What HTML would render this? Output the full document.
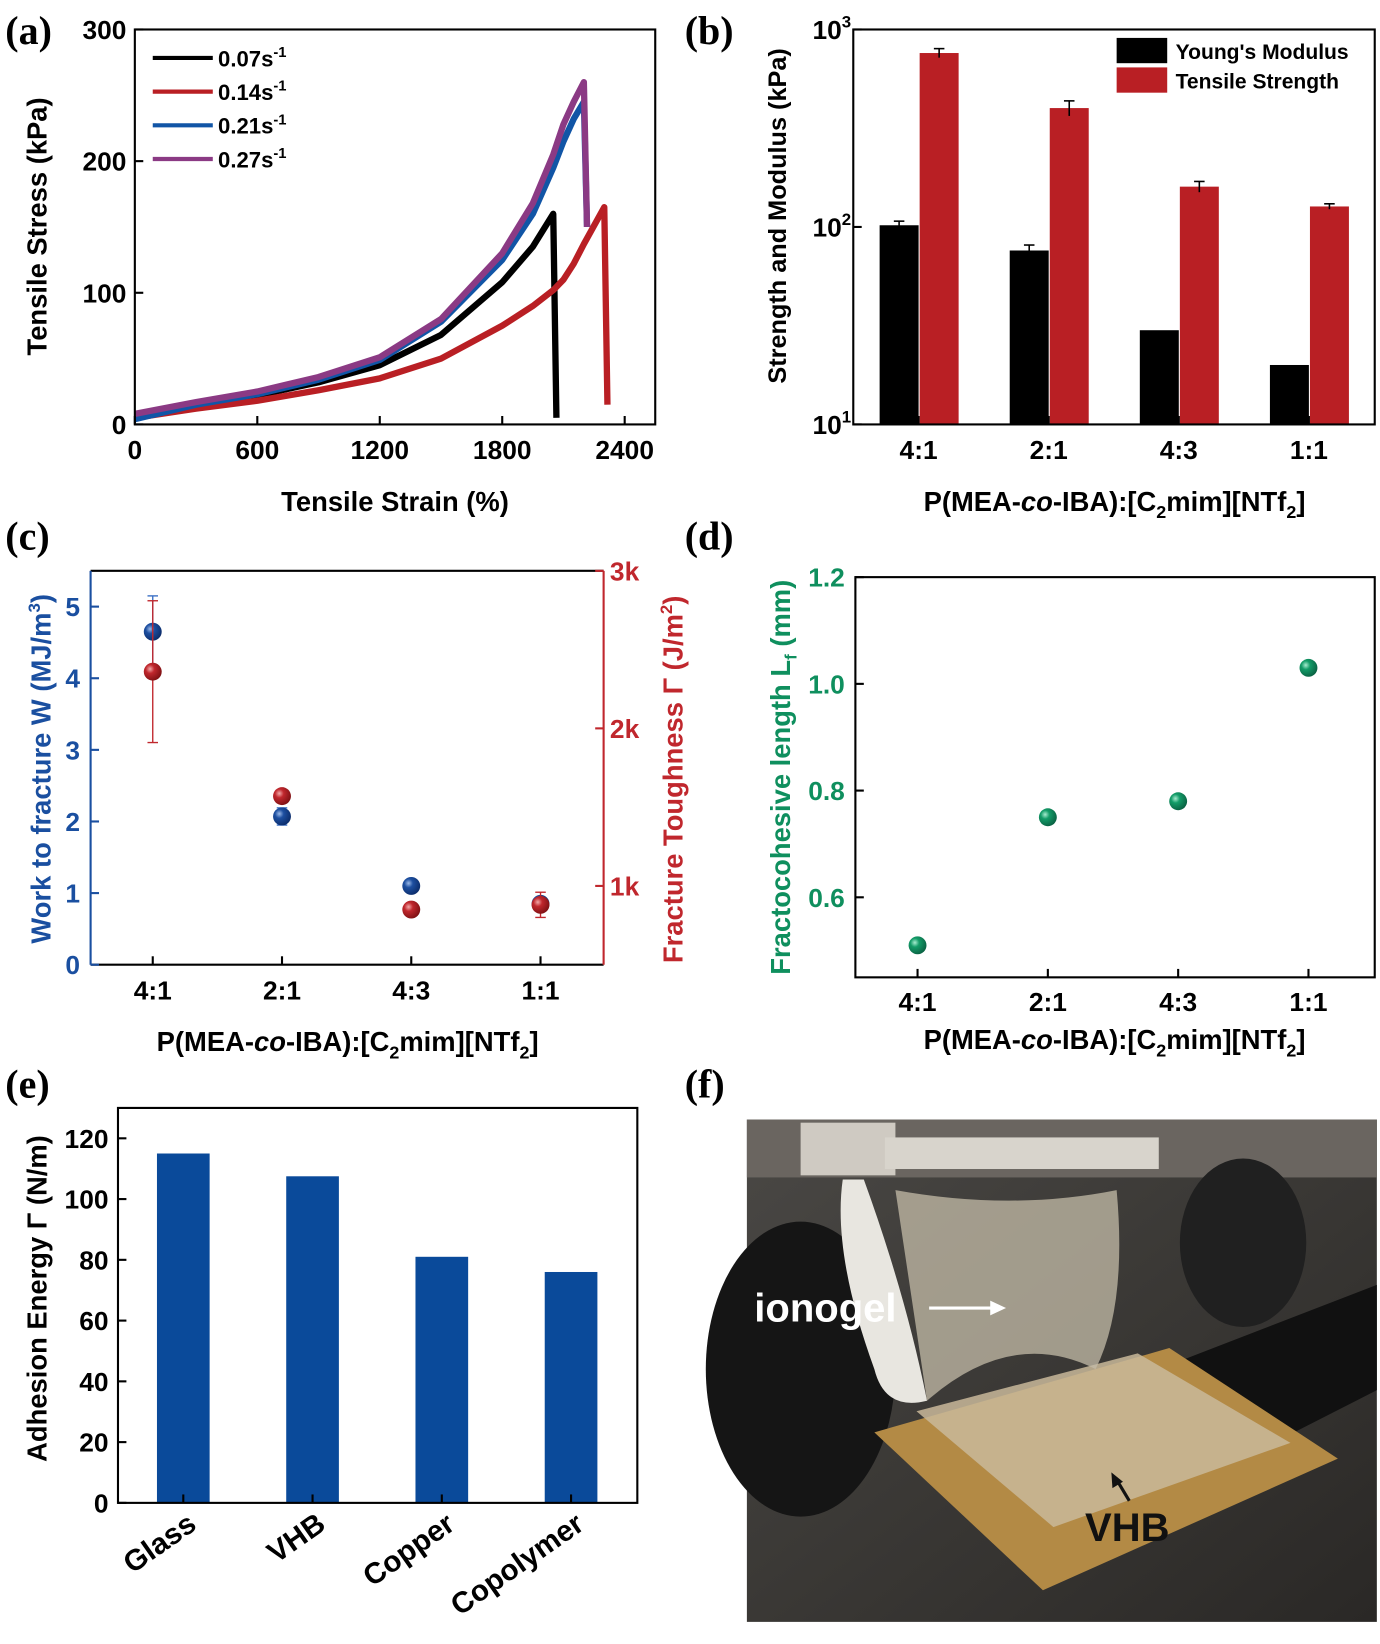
<!DOCTYPE html>
<html><head><meta charset="utf-8"><style>
html,body{margin:0;padding:0;background:#fff;width:1380px;height:1644px;overflow:hidden}
svg{display:block}
text{font-family:"Liberation Sans",Arial,sans-serif;font-weight:bold}
.pl{font-family:"Liberation Serif",serif;font-size:38px;font-weight:bold}
.tk{font-size:25px}
.tt{font-size:26px}
</style></head><body>
<svg id="fig" width="1380" height="1644" viewBox="0 0 1310 1561" preserveAspectRatio="none" xmlns="http://www.w3.org/2000/svg">
<defs>
<radialGradient id="gb" cx="35%" cy="35%" r="70%"><stop offset="0" stop-color="#9bb9e8"/><stop offset="0.35" stop-color="#1d4fa0"/><stop offset="1" stop-color="#0b2c6a"/></radialGradient>
<radialGradient id="gr" cx="35%" cy="35%" r="70%"><stop offset="0" stop-color="#f2a9a9"/><stop offset="0.35" stop-color="#c0272d"/><stop offset="1" stop-color="#7d1013"/></radialGradient>
<radialGradient id="gg" cx="35%" cy="35%" r="70%"><stop offset="0" stop-color="#a8ecd0"/><stop offset="0.35" stop-color="#139c68"/><stop offset="1" stop-color="#0a6042"/></radialGradient>
<linearGradient id="photo" x1="0" y1="0" x2="1" y2="1"><stop offset="0" stop-color="#4a4845"/><stop offset="0.5" stop-color="#3a3835"/><stop offset="1" stop-color="#2a2826"/></linearGradient>
</defs>
<g id="pa"></g>
<g id="pb"></g>
<g id="pc"></g>
<g id="pd"></g>
<g id="pe"></g>
<g id="pf">
  <rect x="709" y="1063" width="598" height="477" fill="url(#photo)"/>
  <rect x="709" y="1063" width="598" height="55" fill="#6a6560"/>
  <rect x="760" y="1066" width="90" height="50" fill="#cfcac2"/>
  <rect x="840" y="1080" width="260" height="30" fill="#d8d4cc"/>
  <ellipse cx="760" cy="1300" rx="90" ry="140" fill="#151515"/>
  <ellipse cx="1180" cy="1180" rx="60" ry="80" fill="#202020"/>
  <polygon points="1100,1300 1307,1220 1307,1320 1150,1400" fill="#111"/>
  <polygon points="830,1360 1110,1280 1270,1385 990,1510" fill="#b38a45"/>
  <polygon points="870,1340 1080,1285 1225,1370 1000,1450" fill="#c9b89a" opacity="0.85"/>
  <path d="M820,1120 Q860,1230 880,1330 Q840,1340 830,1300 Q790,1190 800,1120 Z" fill="#e8e6e0"/>
  <path d="M850,1130 Q960,1150 1060,1130 Q1070,1240 1040,1300 Q960,1260 880,1330 Z" fill="#c4bca8" opacity="0.75"/>
  <text x="716" y="1255" fill="#fff" font-size="38">ionogel</text>
  <line x1="882" y1="1242" x2="945" y2="1242" stroke="#fff" stroke-width="3"/>
  <polygon points="955,1242 940,1235 940,1249" fill="#fff"/>
  <text x="1030" y="1463" fill="#111" font-size="38">VHB</text>
  <line x1="1072" y1="1425" x2="1060" y2="1405" stroke="#111" stroke-width="3"/>
  <polygon points="1055,1398 1056,1413 1066,1407" fill="#111"/>
</g>
<text class="pl" x="5" y="42">(a)</text>
<text class="pl" x="650" y="42">(b)</text>
<text class="pl" x="5" y="522">(c)</text>
<text class="pl" x="650" y="522">(d)</text>
<text class="pl" x="5" y="1042">(e)</text>
<text class="pl" x="650" y="1042">(f)</text>
</svg>
<script>
const NS='http://www.w3.org/2000/svg';
function mk(parent,tag,attrs,txt){const e=document.createElementNS(NS,tag);for(const k in attrs)e.setAttribute(k,attrs[k]);if(txt!==undefined)e.textContent=txt;parent.appendChild(e);return e;}

// ---------- Panel A data ----------
const aStrain=[0,300,600,900,1200,1500,1800,1950,2050,2100,2150,2200,2300];
const aBlack=[5,15,22,32,45,68,108,135,160,null,null,null,null];
const aRed=[5,12,18,26,35,50,75,90,102,110,122,137,165];
const aBlue=[4,15,23,34,49,78,125,160,195,215,232,245,null];
const aPurple=[8,17,25,36,51,80,130,168,205,228,245,260,null];
const aXTicks=[0,600,1200,1800,2400];
const aYTicks=[0,100,200,300];
const aLegend=['0.07s','0.14s','0.21s','0.27s'];
const aDrop=[5,15,150,150];
// ---------- Panel B data ----------
const bCats=['4:1','2:1','4:3','1:1'];
const bModulus=[102,76,30,20];
const bModErr=[5,5,0,0];
const bStrength=[760,400,160,127];
const bStrErr=[40,35,10,4];
// ---------- Panel C data ----------
const cCats=['4:1','2:1','4:3','1:1'];
const cWork=[4.65,2.07,1.1,0.85];
const cWorkErr=[0.5,0.12,0.05,0.05];
const cTough=[2.36,1.57,0.85,0.88];
const cToughErr=[0.45,0.04,0.03,0.08];
const cYTicks=[0,1,2,3,4,5];
const cY2Ticks=[1,2,3];
// ---------- Panel D data ----------
const dCats=['4:1','2:1','4:3','1:1'];
const dLf=[0.51,0.75,0.78,1.03];
const dYTicks=[0.6,0.8,1.0,1.2];
// ---------- Panel E data ----------
const eCats=['Glass','VHB','Copper','Copolymer'];
const eVals=[115,107.5,81,76];
const eYTicks=[0,20,40,60,80,100,120];

// ===== Panel A =====
(function(){
const g=document.getElementById('pa');
const X0=128,X1=622,Y0=403,Y1=28;
const xs=v=>X0+v/2400*(593-X0);
const ys=v=>Y0-v/300*(Y0-Y1);
const series=[[aBlack,'#000'],[aRed,'#b91f24'],[aBlue,'#1155a6'],[aPurple,'#8b3a84']];
series.forEach((s,i)=>{
  let pts=[];let last=null;
  s[0].forEach((v,j)=>{if(v!==null){pts.push(xs(aStrain[j])+','+ys(v));last=j;}});
  const endX=xs(aStrain[last])+3;
  pts.push(endX+','+ys(aDrop[i]));
  const p=mk(g,'polyline',{points:pts.join(' '),fill:'none',stroke:s[1],'stroke-width':6,'stroke-linejoin':'round'});
  
  
});
const box=mk(g,'rect',{x:X0,y:Y1,width:X1-X0,height:Y0-Y1,fill:'none',stroke:'#000','stroke-width':2});

aXTicks.forEach(t=>{
  mk(g,'line',{x1:xs(t),y1:Y0,x2:xs(t),y2:Y0-8,stroke:'#000','stroke-width':2});
  const l=mk(g,'text',{x:xs(t),y:Y0+33,'text-anchor':'middle',class:'tk'},t);
  
});
aYTicks.forEach(t=>{
  mk(g,'line',{x1:X0,y1:ys(t),x2:X0+8,y2:ys(t),stroke:'#000','stroke-width':2});
  const l=mk(g,'text',{x:X0-8,y:ys(t)+9,'text-anchor':'end',class:'tk'},t);
  
});
const xt=mk(g,'text',{x:375,y:485,'text-anchor':'middle',class:'tt'},'Tensile Strain (%)');

const yt=mk(g,'text',{x:44,y:215,'text-anchor':'middle',class:'tt',transform:'rotate(-90 44 215)'},'Tensile Stress (kPa)');

aLegend.forEach((lab,i)=>{
  const y=55+i*32;
  const le=mk(g,'g',{});
  
  mk(le,'line',{x1:145,y1:y,x2:202,y2:y,stroke:series[i][1],'stroke-width':4});
  const t=mk(le,'text',{x:207,y:y+8,'font-size':21},lab);
  mk(t,'tspan',{dy:-9,'font-size':14},'-1');
});
})();

// ===== Panel B =====
(function(){
const g=document.getElementById('pb');
const X0=810,X1=1305,Y0=403,Y1=28;
const ys=v=>Y0-(Math.log10(v)-1)/2*(Y0-Y1);
const xc=i=>872+i*123.5;
bCats.forEach((c,i)=>{
  const b1=mk(g,'rect',{x:xc(i)-37,y:ys(bModulus[i]),width:37,height:Y0-ys(bModulus[i]),fill:'#000'});
  
  const b2=mk(g,'rect',{x:xc(i)+1,y:ys(bStrength[i]),width:37,height:Y0-ys(bStrength[i]),fill:'#b91f24'});
  
  [[bModulus,bModErr,xc(i)-18.5],[bStrength,bStrErr,xc(i)+19.5]].forEach(a=>{
    const v=a[0][i],e=a[1][i];if(!e)return;
    mk(g,'line',{x1:a[2],x2:a[2],y1:ys(v+e),y2:ys(v-e),stroke:'#000','stroke-width':1.5});
    mk(g,'line',{x1:a[2]-5,x2:a[2]+5,y1:ys(v+e),y2:ys(v+e),stroke:'#000','stroke-width':1.5});
  });
  mk(g,'line',{x1:xc(i),x2:xc(i),y1:Y0,y2:Y0-8,stroke:'#000','stroke-width':2});
  const l=mk(g,'text',{x:xc(i),y:Y0+33,'text-anchor':'middle',class:'tk'},c);
  
});
const box=mk(g,'rect',{x:X0,y:Y1,width:X1-X0,height:Y0-Y1,fill:'none',stroke:'#000','stroke-width':2});

[1,2,3].forEach(p=>{
  const y=ys(Math.pow(10,p));
  mk(g,'line',{x1:X0,x2:X0+8,y1:y,y2:y,stroke:'#000','stroke-width':2});
  const t=mk(g,'text',{x:X0-2,y:y+9,'text-anchor':'end',class:'tk'},'10');
  mk(t,'tspan',{dy:-11,'font-size':16},p);
  
});
const yt=mk(g,'text',{x:746,y:205,'text-anchor':'middle','font-size':24,transform:'rotate(-90 746 205)'},'Strength  and Modulus (kPa)');

const xt=mk(g,'text',{x:1058,y:485,'text-anchor':'middle',class:'tt'});
xt.innerHTML='P(MEA-<tspan font-style="italic">co</tspan>-IBA):[C<tspan font-size="17" dy="7">2</tspan><tspan dy="-7">mim][NTf</tspan><tspan font-size="17" dy="7">2</tspan><tspan dy="-7">]</tspan>';

[['#000',"Young's Modulus",36],['#b91f24','Tensile Strength',64]].forEach(l=>{
  const le=mk(g,'g',{});
  mk(le,'rect',{x:1060,y:l[2],width:48,height:24,fill:l[0]});
  mk(le,'text',{x:1116,y:l[2]+20,'font-size':20},l[1]);
});
})();

// ===== Panel C =====
(function(){
const g=document.getElementById('pc');
const X0=86,X1=573,Y0=916,Y1=542;
const ys=v=>Y0-v/5.5*(Y0-Y1);
const ys2=v=>Y0-(v-0.5)/2.5*(Y0-Y1);
const xc=i=>145+i*122.7;
cCats.forEach((c,i)=>{
  [[cWork,cWorkErr,ys,'#3a6fc4','url(#gb)','work'],[cTough,cToughErr,ys2,'#c0272d','url(#gr)','toughness']].forEach(a=>{
    const v=a[0][i],e=a[1][i],f=a[2];
    mk(g,'line',{x1:xc(i),x2:xc(i),y1:f(v+e),y2:f(v-e),stroke:a[3],'stroke-width':1.3});
    mk(g,'line',{x1:xc(i)-5,x2:xc(i)+5,y1:f(v+e),y2:f(v+e),stroke:a[3],'stroke-width':1.3});
    mk(g,'line',{x1:xc(i)-5,x2:xc(i)+5,y1:f(v-e),y2:f(v-e),stroke:a[3],'stroke-width':1.3});
    const p=mk(g,'circle',{cx:xc(i),cy:f(v),r:8.5,fill:a[4]});
    
  });
  mk(g,'line',{x1:xc(i),x2:xc(i),y1:Y0,y2:Y0-8,stroke:'#000','stroke-width':2});
  const l=mk(g,'text',{x:xc(i),y:Y0+33,'text-anchor':'middle',class:'tk'},c);
  
});
mk(g,'line',{x1:X0,x2:X1,y1:Y0,y2:Y0,stroke:'#000','stroke-width':2});
mk(g,'line',{x1:X0,x2:X1,y1:Y1,y2:Y1,stroke:'#000','stroke-width':2});
mk(g,'line',{x1:X0,x2:X0,y1:Y0,y2:Y1,stroke:'#1a4fa0','stroke-width':2});
mk(g,'line',{x1:X1,x2:X1,y1:Y0,y2:Y1,stroke:'#c0272d','stroke-width':2});
cYTicks.forEach(t=>{
  mk(g,'line',{x1:X0,x2:X0+8,y1:ys(t),y2:ys(t),stroke:'#1a4fa0','stroke-width':2});
  const l=mk(g,'text',{x:X0-10,y:ys(t)+9,'text-anchor':'end',class:'tk',fill:'#1a4fa0'},t);
  
});
cY2Ticks.forEach(t=>{
  mk(g,'line',{x1:X1,x2:X1-8,y1:ys2(t),y2:ys2(t),stroke:'#c0272d','stroke-width':2});
  const l=mk(g,'text',{x:X1+6,y:ys2(t)+9,class:'tk',fill:'#c0272d'},t+'k');
  
});
const yt=mk(g,'text',{x:48,y:730,'text-anchor':'middle',class:'tt',fill:'#1a4fa0',transform:'rotate(-90 48 730)'});
yt.innerHTML='Work to fracture W (MJ/m<tspan font-size="16" dy="-10">3</tspan><tspan dy="10">)</tspan>';

const yt2=mk(g,'text',{x:648,y:740,'text-anchor':'middle',class:'tt',fill:'#c0272d',transform:'rotate(-90 648 740)'});
yt2.innerHTML='Fracture Toughness Γ (J/m<tspan font-size="16" dy="-10">2</tspan><tspan dy="10">)</tspan>';

const xt=mk(g,'text',{x:330,y:998,'text-anchor':'middle',class:'tt'});
xt.innerHTML='P(MEA-<tspan font-style="italic">co</tspan>-IBA):[C<tspan font-size="17" dy="7">2</tspan><tspan dy="-7">mim][NTf</tspan><tspan font-size="17" dy="7">2</tspan><tspan dy="-7">]</tspan>';

})();

// ===== Panel D =====
(function(){
const g=document.getElementById('pd');
const X0=812,X1=1305,Y0=928,Y1=548;
const ys=v=>Y0-(v-0.45)/0.75*(Y0-Y1);
const xc=i=>871+i*123.7;
dCats.forEach((c,i)=>{
  const p=mk(g,'circle',{cx:xc(i),cy:ys(dLf[i]),r:8.5,fill:'url(#gg)'});
  
  mk(g,'line',{x1:xc(i),x2:xc(i),y1:Y0,y2:Y0-8,stroke:'#000','stroke-width':2});
  const l=mk(g,'text',{x:xc(i),y:Y0+32,'text-anchor':'middle',class:'tk'},c);
  
});
const box=mk(g,'rect',{x:X0,y:Y1,width:X1-X0,height:Y0-Y1,fill:'none',stroke:'#000','stroke-width':2});

dYTicks.forEach(t=>{
  mk(g,'line',{x1:X0,x2:X0+8,y1:ys(t),y2:ys(t),stroke:'#000','stroke-width':2});
  const l=mk(g,'text',{x:X0-10,y:ys(t)+9,'text-anchor':'end',class:'tk',fill:'#0f8f5e'},t.toFixed(1));
  
});
const yt=mk(g,'text',{x:750,y:738,'text-anchor':'middle',class:'tt',fill:'#0f8f5e',transform:'rotate(-90 750 738)'});
yt.innerHTML='Fractocohesive length L<tspan font-size="16" dy="6">f</tspan><tspan dy="-6"> (mm)</tspan>';

const xt=mk(g,'text',{x:1058,y:996,'text-anchor':'middle',class:'tt'});
xt.innerHTML='P(MEA-<tspan font-style="italic">co</tspan>-IBA):[C<tspan font-size="17" dy="7">2</tspan><tspan dy="-7">mim][NTf</tspan><tspan font-size="17" dy="7">2</tspan><tspan dy="-7">]</tspan>';

})();

// ===== Panel E =====
(function(){
const g=document.getElementById('pe');
const X0=112,X1=605,Y0=1427,Y1=1052;
const ys=v=>Y0-v/130*(Y0-Y1);
const xc=i=>174+i*122.7;
eCats.forEach((c,i)=>{
  const b=mk(g,'rect',{x:xc(i)-25,y:ys(eVals[i]),width:50,height:Y0-ys(eVals[i]),fill:'#0a4a9a'});
  
  mk(g,'line',{x1:xc(i),x2:xc(i),y1:Y0,y2:Y0-8,stroke:'#000','stroke-width':2});
  const x=xc(i)+14,y=Y0+24;
  const l=mk(g,'text',{x:x,y:y,'text-anchor':'end','font-size':28,transform:'rotate(-35 '+x+' '+y+')'},c);
  
});
const box=mk(g,'rect',{x:X0,y:Y1,width:X1-X0,height:Y0-Y1,fill:'none',stroke:'#000','stroke-width':2});

eYTicks.forEach(t=>{
  mk(g,'line',{x1:X0,x2:X0+8,y1:ys(t),y2:ys(t),stroke:'#000','stroke-width':2});
  const l=mk(g,'text',{x:X0-9,y:ys(t)+9,'text-anchor':'end',class:'tk'},t);
  
});
const yt=mk(g,'text',{x:44,y:1233,'text-anchor':'middle',class:'tt',transform:'rotate(-90 44 1233)'},'Adhesion Energy Γ (N/m)');

})();
</script>
</body></html>
